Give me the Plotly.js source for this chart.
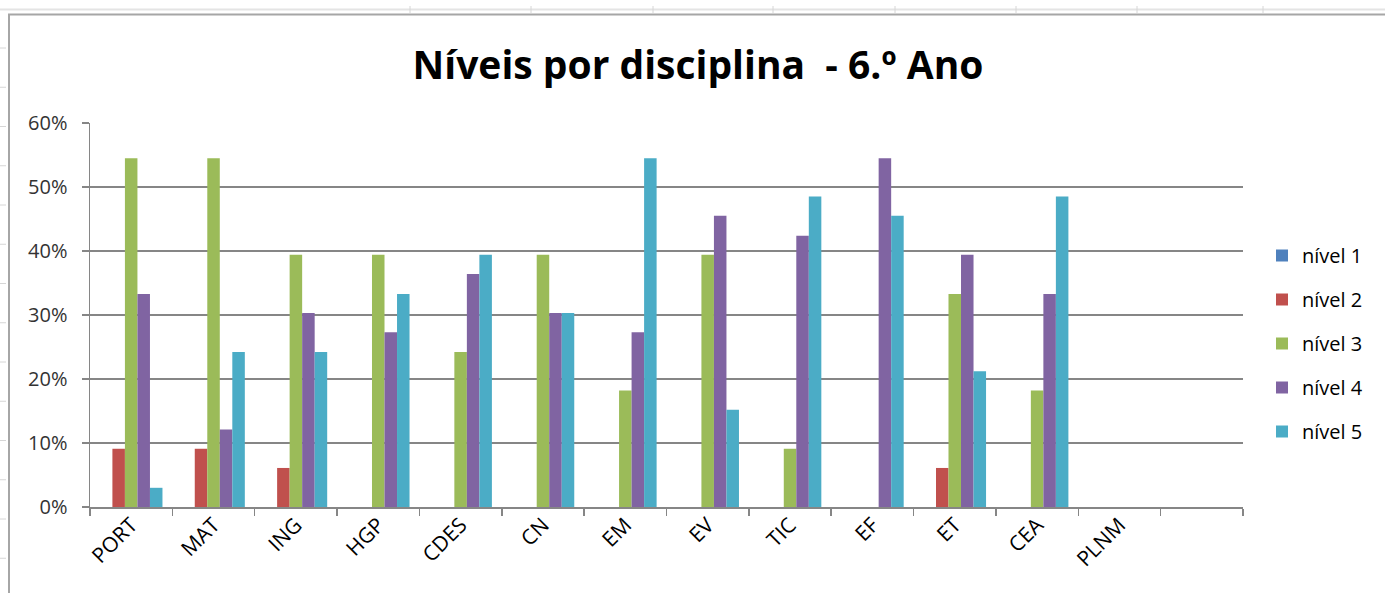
<!DOCTYPE html>
<html>
<head>
<meta charset="utf-8">
<script src="https://cdn.plot.ly/plotly-3.0.1.min.js"></script>
<style>
  html, body { margin: 0; padding: 0; background: #ffffff; }
  #chart { width: 1385px; height: 593px; }
</style>
</head>
<body>
<div id="chart"></div>
<script>
// ---- data (percentages) ----
const categories = ["PORT", "MAT", "ING", "HGP", "CDES", "CN", "EM", "EV", "TIC", "EF", "ET", "CEA", "PLNM", " "];
const seriesNames = ["nível 1", "nível 2", "nível 3", "nível 4", "nível 5"];
const nivel1 = [0, 0, 0, 0, 0, 0, 0, 0, 0, 0, 0, 0, 0, null];
const nivel2 = [9.1, 9.1, 6.1, 0, 0, 0, 0, 0, 0, 0, 6.1, 0, 0, null];
const nivel3 = [54.5, 54.5, 39.4, 39.4, 24.2, 39.4, 18.2, 39.4, 9.1, 0, 33.3, 18.2, 0, null];
const nivel4 = [33.3, 12.1, 30.3, 27.3, 36.4, 30.3, 27.3, 45.5, 42.4, 54.5, 39.4, 33.3, 0, null];
const nivel5 = [3.0, 24.2, 24.2, 33.3, 39.4, 30.3, 54.5, 15.2, 48.5, 45.5, 21.2, 48.5, 0, null];
const yTickVals = [0, 10, 20, 30, 40, 50, 60];
const yTickText = ["0%", "10%", "20%", "30%", "40%", "50%", "60%"];
const titleText = "Níveis por disciplina  - 6.º Ano";

// ---- styles ----
const colors = ["#4F81BD", "#C0504D", "#9BBB59", "#8064A2", "#4BACC6"];
const allSeries = [nivel1, nivel2, nivel3, nivel4, nivel5];

const traces = allSeries.map((vals, i) => ({
  type: "bar",
  name: seriesNames[i],
  legendgroup: "g" + i,
  x: categories,
  y: vals,
  marker: { color: colors[i], line: { width: 0 } },
  hoverinfo: "x+y+name"
}));

// plot area in pixels: x 90..1243, y 123..507
const L = 90, R = 1243, T = 123, B = 507;
const px = x => (x - L) / (R - L);
const py = y => (B - y) / (B - T);

const shapes = [];
// spreadsheet background (faint)
shapes.push({ type: "line", xref: "paper", yref: "paper", x0: px(0), x1: px(1385), y0: py(9.5), y1: py(9.5), line: { color: "#e4e4e4", width: 2 } });
[410, 531, 653, 773, 895, 1016, 1137, 1263].forEach(x => {
  shapes.push({ type: "line", xref: "paper", yref: "paper", x0: px(x), x1: px(x), y0: py(6), y1: py(13), line: { color: "#d6d6d6", width: 1 } });
});
for (let y = 48; y < 593; y += 39.25) {
  shapes.push({ type: "line", xref: "paper", yref: "paper", x0: px(0), x1: px(6), y0: py(y), y1: py(y), line: { color: "#d6d6d6", width: 1 } });
}
// chart border
shapes.push({ type: "line", xref: "paper", yref: "paper", x0: px(8), x1: px(1385), y0: py(14.5), y1: py(14.5), line: { color: "#a6a6a6", width: 2 } });
shapes.push({ type: "line", xref: "paper", yref: "paper", x0: px(9), x1: px(9), y0: py(14), y1: py(593), line: { color: "#a6a6a6", width: 2 } });

const layout = {
  width: 1385,
  height: 593,
  margin: { l: L, r: 1385 - R, t: T, b: 593 - B },
  paper_bgcolor: "#ffffff",
  plot_bgcolor: "#ffffff",
  font: { family: "Open Sans, sans-serif", color: "#000000" },
  title: {
    text: titleText,
    font: { family: "Open Sans, sans-serif", size: 39, color: "#000000", weight: "bold" },
    xref: "container", yref: "container",
    x: 698 / 1385, xanchor: "center",
    y: 1 - 65 / 593, yanchor: "middle"
  },
  barmode: "group",
  bargap: 0.24,
  bargroupgap: 0,
  xaxis: {
    type: "category",
    categoryorder: "array",
    categoryarray: categories,
    range: [-0.5, categories.length - 0.5],
    showline: true, linecolor: "#868686", linewidth: 1.5,
    ticks: "outside", tickson: "boundaries", ticklen: 7, tickcolor: "#868686", tickwidth: 1.5,
    tickangle: -45,
    ticklabelstandoff: -4,
    tickfont: { family: "Open Sans, sans-serif", size: 21, color: "#000000" },
    showgrid: false, zeroline: false, fixedrange: true
  },
  yaxis: {
    range: [0, 60],
    tickmode: "array",
    tickvals: yTickVals,
    ticktext: yTickText,
    showline: true, linecolor: "#868686", linewidth: 1.5,
    ticks: "outside", ticklen: 7, tickcolor: "#868686", tickwidth: 1.5,
    ticklabelstandoff: 10,
    tickfont: { family: "Open Sans, sans-serif", size: 20, color: "#333333" },
    showgrid: true, gridcolor: "#868686", gridwidth: 1.5,
    zeroline: false, fixedrange: true
  },
  legend: {
    x: px(1262), xanchor: "left",
    y: py(236), yanchor: "top",
    font: { family: "Open Sans, sans-serif", size: 20, color: "#000000" },
    tracegroupgap: 15,
    bgcolor: "rgba(0,0,0,0)",
    borderwidth: 0
  },
  showlegend: true,
  shapes: shapes
};

Plotly.newPlot("chart", traces, layout, { displayModeBar: false, staticPlot: true });
</script>
</body>
</html>
